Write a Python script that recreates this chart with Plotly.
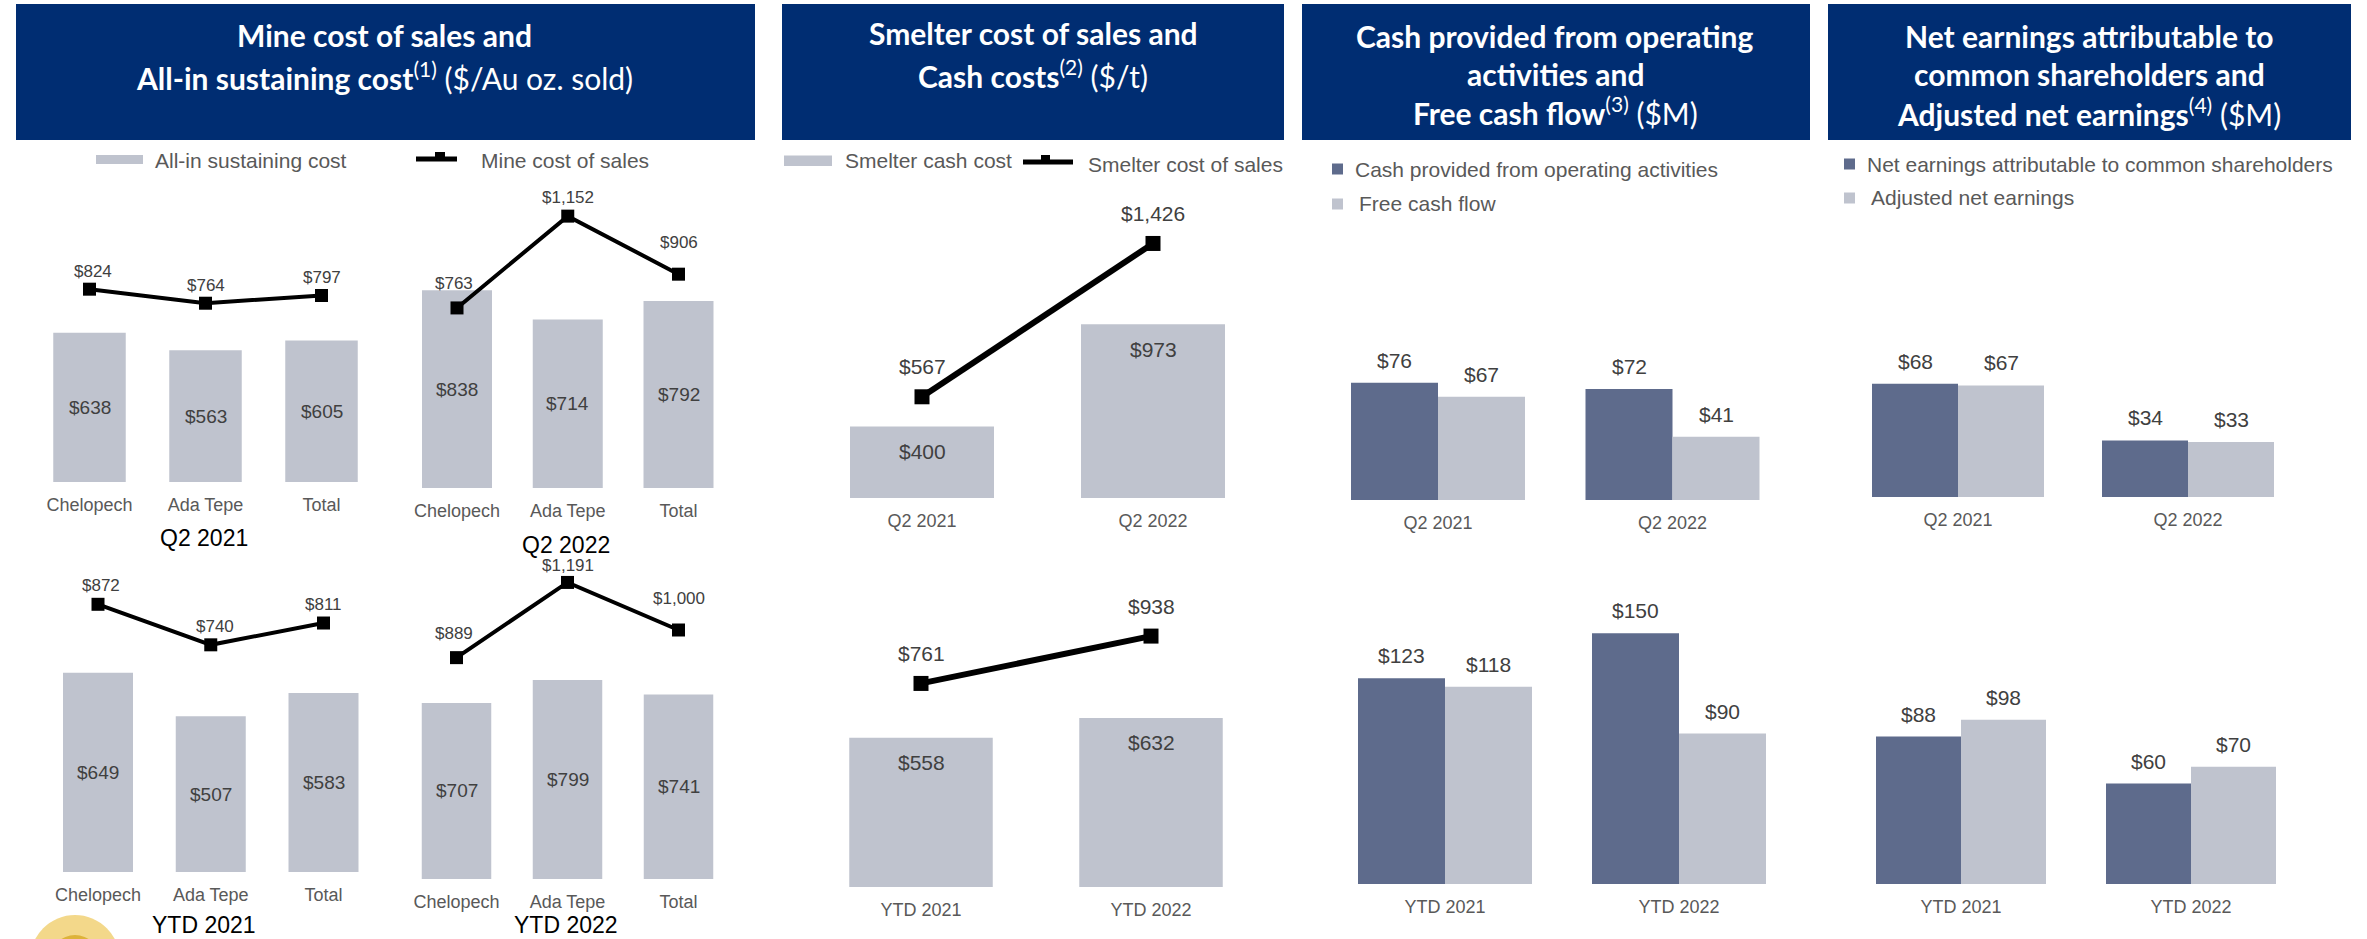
import plotly.graph_objects as go

# ---------------- data ----------------
mine_sites = ["Chelopech", "Ada Tepe", "Total"]
aisc_q2_2021 = [638, 563, 605]
mine_cos_q2_2021 = [824, 764, 797]
aisc_q2_2022 = [838, 714, 792]
mine_cos_q2_2022 = [763, 1152, 906]
aisc_ytd_2021 = [649, 507, 583]
mine_cos_ytd_2021 = [872, 740, 811]
aisc_ytd_2022 = [707, 799, 741]
mine_cos_ytd_2022 = [889, 1191, 1000]

q2_periods = ["Q2 2021", "Q2 2022"]
ytd_periods = ["YTD 2021", "YTD 2022"]

smelter_cash_cost_q2 = [400, 973]
smelter_cos_q2 = [567, 1426]
smelter_cash_cost_ytd = [558, 632]
smelter_cos_ytd = [761, 938]

cash_from_ops_q2 = [76, 72]
free_cash_flow_q2 = [67, 41]
cash_from_ops_ytd = [123, 150]
free_cash_flow_ytd = [118, 90]

net_earnings_q2 = [68, 34]
adjusted_net_earnings_q2 = [67, 33]
net_earnings_ytd = [88, 60]
adjusted_net_earnings_ytd = [98, 70]

# ---------------- style ----------------
W, H = 2367, 939
NAVY = "#002D72"
GRAY_BAR = "#BFC3CE"
DARK_BAR = "#5E6B8C"
LABEL = "#404040"
AXIS_TXT = "#595959"
FONT = "Liberation Sans, Arial, sans-serif"
TITLE_FONT = "Lato, sans-serif"

fig = go.Figure()
layout_axes = {}
annotations = []
shapes = []
counter = {"n": 0}


def px(x):
    return x / W


def py(y):
    return 1 - y / H


def text_ann(x, y, text, size, color=LABEL, family=FONT, xanchor="center"):
    annotations.append(dict(xref="paper", yref="paper", x=px(x), y=py(y), text=text,
                            showarrow=False, xanchor=xanchor, yanchor="middle",
                            font=dict(size=size, color=color, family=family)))


def make_axes(c0, sp, n, base, scale, top, ticktext, standoff=10):
    counter["n"] += 1
    k = counter["n"]
    xa, ya = ("xaxis", "yaxis") if k == 1 else (f"xaxis{k}", f"yaxis{k}")
    xr, yr = ("x", "y") if k == 1 else (f"x{k}", f"y{k}")
    layout_axes[xa] = dict(domain=[px(c0 - sp / 2), px(c0 + (n - 0.5) * sp)],
                           range=[-0.5, n - 0.5], anchor=yr, tickmode="array",
                           tickvals=list(range(n)), ticktext=ticktext,
                           showgrid=False, zeroline=False, showline=False, ticks="",
                           ticklabelstandoff=standoff,
                           tickfont=dict(size=18, color=AXIS_TXT, family=FONT),
                           fixedrange=True)
    layout_axes[ya] = dict(domain=[py(base), py(top)], range=[0, (base - top) / scale],
                           anchor=xr, showgrid=False, zeroline=False, showline=False,
                           showticklabels=False, fixedrange=True)
    return xr, yr


def mine_chart(geom, aisc, cos, dy, dx, group_text, group_pos):
    c0, sp, bw, base, scale, top = geom
    xr, yr = make_axes(c0, sp, 3, base, scale, top, mine_sites)
    idx = list(range(len(mine_sites)))
    fig.add_trace(go.Bar(x=idx, y=aisc, width=bw / sp, xaxis=xr, yaxis=yr,
                         marker=dict(color=GRAY_BAR, line=dict(width=0)),
                         name="All-in sustaining cost", hoverinfo="skip"))
    fig.add_trace(go.Scatter(x=idx, y=cos, mode="lines+markers", xaxis=xr, yaxis=yr,
                             line=dict(color="black", width=4),
                             marker=dict(symbol="square", size=13, color="black"),
                             name="Mine cost of sales", cliponaxis=False, hoverinfo="skip"))
    for i, v in enumerate(aisc):
        annotations.append(dict(xref=xr, yref=yr, x=i, y=v / 2, text=f"${v:,}",
                                showarrow=False, yanchor="middle",
                                font=dict(size=19, color=LABEL, family=FONT)))
    for i, v in enumerate(cos):
        annotations.append(dict(xref=xr, yref=yr, x=i, y=v, yshift=dy[i], xshift=dx[i],
                                text=f"${v:,}", showarrow=False, yanchor="middle",
                                font=dict(size=17, color=LABEL, family=FONT)))
    text_ann(group_pos[0], group_pos[1], group_text, 23, color="#000000")


def smelter_chart(geom, cash, cos, periods):
    c0, sp, bw, base, scale, top = geom
    xr, yr = make_axes(c0, sp, 2, base, scale, top, periods)
    idx = list(range(len(periods)))
    fig.add_trace(go.Bar(x=idx, y=cash, width=bw / sp, xaxis=xr, yaxis=yr,
                         marker=dict(color=GRAY_BAR, line=dict(width=0)),
                         name="Smelter cash cost", hoverinfo="skip"))
    fig.add_trace(go.Scatter(x=idx, y=cos, mode="lines+markers", xaxis=xr, yaxis=yr,
                             line=dict(color="black", width=6),
                             marker=dict(symbol="square", size=15, color="black"),
                             name="Smelter cost of sales", cliponaxis=False, hoverinfo="skip"))
    for i, v in enumerate(cash):
        annotations.append(dict(xref=xr, yref=yr, x=i, y=v, yshift=-25, text=f"${v:,}",
                                showarrow=False, yanchor="middle",
                                font=dict(size=21, color=LABEL, family=FONT)))
    for i, v in enumerate(cos):
        annotations.append(dict(xref=xr, yref=yr, x=i, y=v, yshift=30, text=f"${v:,}",
                                showarrow=False, yanchor="middle",
                                font=dict(size=21, color=LABEL, family=FONT)))


def pair_chart(geom, s1, s2, periods, n1, n2):
    c0, sp, bw, base, scale, top = geom
    xr, yr = make_axes(c0, sp, 2, base, scale, top, periods)
    idx = list(range(len(periods)))
    w = bw / sp
    fig.add_trace(go.Bar(x=idx, y=s1, width=w, offset=-w, xaxis=xr, yaxis=yr,
                         marker=dict(color=DARK_BAR, line=dict(width=0)),
                         name=n1, hoverinfo="skip"))
    fig.add_trace(go.Bar(x=idx, y=s2, width=w, offset=0, xaxis=xr, yaxis=yr,
                         marker=dict(color=GRAY_BAR, line=dict(width=0)),
                         name=n2, hoverinfo="skip"))
    for series, sgn in ((s1, -1), (s2, 1)):
        for i, v in enumerate(series):
            annotations.append(dict(xref=xr, yref=yr, x=i + sgn * w / 2, y=v, yshift=22.5,
                                    text=f"${v:,}", showarrow=False, yanchor="middle",
                                    font=dict(size=21, color=LABEL, family=FONT)))


# ---------------- panel 1: mine ----------------
mine_chart((89.5, 116, 72.5, 482, 0.234, 250), aisc_q2_2021, mine_cos_q2_2021,
           [18, 18, 18.5], [3, 0, 0], "Q2 2021", (204, 538))
mine_chart((457, 110.75, 70, 488, 0.236, 200), aisc_q2_2022, mine_cos_q2_2022,
           [24, 19, 32], [-3, 0, 0], "Q2 2022", (566, 545))
mine_chart((98, 112.75, 70, 872, 0.307, 580), aisc_ytd_2021, mine_cos_ytd_2021,
           [19, 18, 19], [3, 4, 0], "YTD 2021", (204, 925))
mine_chart((456.5, 111, 69.5, 879, 0.249, 570), aisc_ytd_2022, mine_cos_ytd_2022,
           [24, 17, 32], [-3, 0, 0], "YTD 2022", (566, 925))

# ---------------- panel 2: smelter ----------------
smelter_chart((922, 231, 144, 498, 0.1785, 200), smelter_cash_cost_q2, smelter_cos_q2, q2_periods)
smelter_chart((921, 230, 143.5, 887, 0.2675, 580), smelter_cash_cost_ytd, smelter_cos_ytd, ytd_periods)

# ---------------- panel 3: cash flow ----------------
pair_chart((1438, 234.5, 87, 500, 1.542, 300), cash_from_ops_q2, free_cash_flow_q2, q2_periods,
           "Cash provided from operating activities", "Free cash flow")
pair_chart((1445, 234, 87, 884, 1.672, 580), cash_from_ops_ytd, free_cash_flow_ytd, ytd_periods,
           "Cash provided from operating activities", "Free cash flow")

# ---------------- panel 4: earnings ----------------
pair_chart((1958, 230, 86, 497, 1.665, 300), net_earnings_q2, adjusted_net_earnings_q2, q2_periods,
           "Net earnings attributable to common shareholders", "Adjusted net earnings")
pair_chart((1961, 230, 85, 884, 1.675, 580), net_earnings_ytd, adjusted_net_earnings_ytd, ytd_periods,
           "Net earnings attributable to common shareholders", "Adjusted net earnings")


# ---------------- header boxes ----------------
def rect(x0, y0, x1, y1, color):
    shapes.append(dict(type="rect", xref="paper", yref="paper", x0=px(x0), x1=px(x1),
                       y0=py(y1), y1=py(y0), fillcolor=color, line=dict(width=0), layer="below"))


for x0, x1 in ((16, 755), (782, 1284), (1302, 1810), (1828, 2351)):
    rect(x0, 4, x1, 140, NAVY)

TS = 30
text_ann(384, 35, "<b>Mine cost of sales and</b>", TS, "white", TITLE_FONT)
text_ann(384, 76, "<b>All-in sustaining cost</b><sup>(1)</sup> ($/Au oz. sold)", TS, "white", TITLE_FONT)
text_ann(1033, 33, "<b>Smelter cost of sales and</b>", TS, "white", TITLE_FONT)
text_ann(1033, 74, "<b>Cash costs</b><sup>(2)</sup> ($/t)", TS, "white", TITLE_FONT)
text_ann(1555, 36, "<b>Cash provided from operating</b>", TS, "white", TITLE_FONT)
text_ann(1555, 74, "<b>activities and</b>", TS, "white", TITLE_FONT)
text_ann(1555, 111, "<b>Free cash flow</b><sup>(3)</sup> ($M)", TS, "white", TITLE_FONT)
text_ann(2089, 36, "<b>Net earnings attributable to</b>", TS, "white", TITLE_FONT)
text_ann(2089, 74, "<b>common shareholders and</b>", TS, "white", TITLE_FONT)
text_ann(2089, 112, "<b>Adjusted net earnings</b><sup>(4)</sup> ($M)", TS, "white", TITLE_FONT)

# ---------------- legends ----------------
LS = 21
rect(96, 155, 143, 164, GRAY_BAR)
text_ann(153, 161, "All-in sustaining cost", LS, AXIS_TXT, xanchor="left")
rect(416, 156.5, 457, 161.5, "black")
rect(435, 152, 445, 157, "black")
text_ann(479, 160.5, "Mine cost of sales", LS, AXIS_TXT, xanchor="left")

rect(784, 155.5, 832, 166, GRAY_BAR)
text_ann(843, 161, "Smelter cash cost", LS, AXIS_TXT, xanchor="left")
rect(1023, 159.5, 1073, 164.5, "black")
rect(1041, 155, 1050, 160, "black")
text_ann(1086, 164, "Smelter cost of sales", LS, AXIS_TXT, xanchor="left")

rect(1332, 163.5, 1343, 174.5, DARK_BAR)
text_ann(1353, 170, "Cash provided from operating activities", LS, AXIS_TXT, xanchor="left")
rect(1332, 198.5, 1343, 209.5, GRAY_BAR)
text_ann(1357, 203, "Free cash flow", LS, AXIS_TXT, xanchor="left")

rect(1844, 158.5, 1855, 169.5, DARK_BAR)
text_ann(1865, 165, "Net earnings attributable to common shareholders", LS, AXIS_TXT, xanchor="left")
rect(1844, 192.5, 1855, 203.5, GRAY_BAR)
text_ann(1869, 197, "Adjusted net earnings", LS, AXIS_TXT, xanchor="left")

# ---------------- logo (partial, bottom-left) ----------------
shapes.append(dict(type="circle", xref="paper", yref="paper", x0=px(30), x1=px(120),
                   y0=py(1005), y1=py(915), fillcolor="#F3D88A", line=dict(width=0)))
shapes.append(dict(type="circle", xref="paper", yref="paper", x0=px(50), x1=px(100),
                   y0=py(985), y1=py(935), fillcolor="#DDB33A", line=dict(width=0)))

fig.update_layout(
    width=W, height=H, margin=dict(l=0, r=0, t=0, b=0),
    paper_bgcolor="white", plot_bgcolor="white",
    showlegend=False, barmode="overlay",
    annotations=annotations, shapes=shapes,
    font=dict(family=FONT),
    **layout_axes,
)

fig.write_html("out.html", config={"displayModeBar": False},
               post_script="document.body.style.margin='0';document.body.style.overflow='hidden';")
